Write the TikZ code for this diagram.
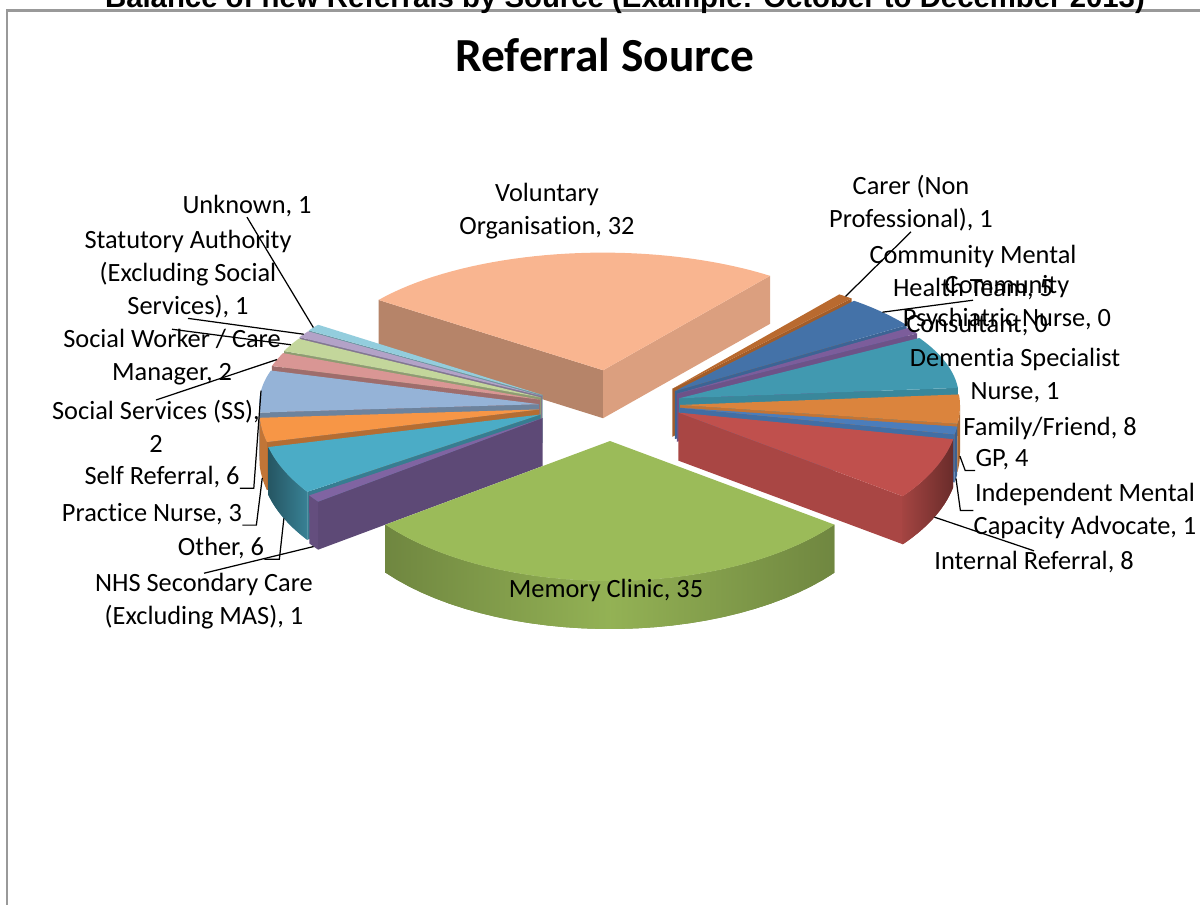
\documentclass[tikz,border=0pt]{standalone}
\usepackage{fontspec}
\setmainfont{Carlito}[Ligatures=NoCommon]
\newfontfamily\headfont{Liberation Sans}
\definecolor{vol}{RGB}{249,181,144}
\definecolor{mem}{RGB}{155,187,89}
\definecolor{carer}{RGB}{185,106,47}
\definecolor{cmht}{RGB}{68,114,168}
\definecolor{dsn}{RGB}{124,93,155}
\definecolor{famf}{RGB}{65,153,176}
\definecolor{gp}{RGB}{219,132,61}
\definecolor{imca}{RGB}{75,125,187}
\definecolor{intref}{RGB}{192,80,77}
\definecolor{nhs}{RGB}{128,100,162}
\definecolor{other}{RGB}{75,172,198}
\definecolor{pnurse}{RGB}{247,150,70}
\definecolor{selfref}{RGB}{149,179,215}
\definecolor{socserv}{RGB}{217,150,148}
\definecolor{socwork}{RGB}{195,214,155}
\definecolor{stat}{RGB}{179,162,199}
\definecolor{unknown}{RGB}{147,205,221}

% one exploded slice: [rim options]{x}{y}{from}{to}{colour}{point for the leader}
\newcommand{\pieslice}[7][]{%
  \pgfmathsetmacro{\slmid}{(#4+#5)/2}%
  \pgfmathsetmacro{\slx}{#2+20*sin(\slmid)}%
  \pgfmathsetmacro{\sly}{#3-20*cos(\slmid)}%
  \pgfmathsetmacro{\sla}{sin(#4)}%
  \pgfmathsetmacro{\slb}{sin(#5)}%
  \pgfmathsetmacro{\sllo}{max(#4,90)}%
  \pgfmathsetmacro{\slhi}{min(#5,270)}%
  \ifdim\sla pt<0pt
    \fill[#6!73!black] (\slx,\sly) -- ({\slx+280*sin(#4)},{\sly-280*sy(#4)*cos(#4)}) -- ++(0,48) -- (\slx,\sly+48) -- cycle;
  \fi
  \ifdim\slb pt>0pt
    \fill[#6!88!black] (\slx,\sly) -- ({\slx+280*sin(#5)},{\sly-280*sy(#5)*cos(#5)}) -- ++(0,48) -- (\slx,\sly+48) -- cycle;
  \fi
  \ifdim\sllo pt<\slhi pt
    \path[fill=#6!78!black,#1] plot[domain=\sllo:\slhi,samples=30,variable=\t] ({\slx+280*sin(\t)},{\sly-280*sy(\t)*cos(\t)})
      -- plot[domain=\slhi:\sllo,samples=30,variable=\t] ({\slx+280*sin(\t)},{\sly+48-280*sy(\t)*cos(\t)}) -- cycle;
  \fi
  \fill[#6] (\slx,\sly) -- plot[domain=#4:#5,samples=40,variable=\t] ({\slx+280*sin(\t)},{\sly-280*sy(\t)*cos(\t)}) -- cycle;
  \pgfmathsetmacro{\sldrop}{(cos(\slmid)<0)*48}%
  \coordinate (#7) at ({\slx+280*sin(\slmid)},{\sly-280*sy(\slmid)*cos(\slmid)+\sldrop});
}

\begin{document}
\begin{tikzpicture}[x=0.02cm,y=-0.02cm,
    declare function={sy(\t)=(cos(\t)>0)*0.42+(cos(\t)<=0)*0.5;},
    lbl/.style={font=\fontsize{15}{18.8}\selectfont,align=center,inner sep=0pt},
    leadline/.style={draw=black,line width=0.7pt},
    chartframe/.style={draw=black!40,line width=1.7pt}]
  \useasboundingbox (0,0) rectangle (1200,904);
  \draw[chartframe] (7,920) -- (7,10) -- (1220,10);
  \node[anchor=base,font=\headfont\bfseries\fontsize{16.7}{20}\selectfont] (head) at (625,7)
    {Balance of new Referrals by Source (Example: October to December 2013)};
  \node[font=\bfseries\fontsize{27}{32}\selectfont] (title) at (605,55) {Referral Source};

  % back slice
  \pieslice{606}{390}{306.7}{396.6}{vol}{vol-p}
  % left group, back to front
  \pieslice{559}{406.5}{303.36}{306.7}{unknown}{unk-p}
  \pieslice{559}{406.5}{300.01}{303.36}{stat}{stat-p}
  \pieslice{559}{406.5}{293.32}{300.01}{socwork}{sw-p}
  \pieslice{559}{406.5}{286.64}{293.32}{socserv}{ss-p}
  \pieslice{559}{406.5}{266.58}{286.64}{selfref}{sr-p}
  \pieslice{559}{406.5}{256.54}{266.58}{pnurse}{pn-p}
  \pieslice[left color=other!50!black,right color=other!75!black]{559}{406.5}{236.47}{256.54}{other}{oth-p}
  \pieslice{559}{406.5}{233.3}{236.47}{nhs}{nhs-p}
  % right group, back to front
  \pieslice{660}{404.5}{36.6}{39.82}{carer}{carer-p}
  \pieslice{660}{404.5}{39.82}{55.91}{cmht}{cmht-p}
  \pieslice{660}{404.5}{55.91}{59.13}{dsn}{dsn-p}
  \pieslice{660}{404.5}{59.13}{84.87}{famf}{ff-p}
  \pieslice{660}{404.5}{84.87}{97.74}{gp}{gp-p}
  \pieslice{660}{404.5}{97.74}{100.96}{imca}{imca-p}
  \pieslice[left color=intref!85!black,right color=intref!55!black]{660}{404.5}{100.96}{126.7}{intref}{ir-p}
  % front slice
  \pieslice[left color=mem!72!black,right color=mem!72!black,middle color=mem!95!black]{610}{421}{126.7}{233.3}{mem}{mem-p}

  % labels
  \node[lbl] (vol) at (547,211.5) {Voluntary\\Organisation, 32};
  \node[lbl] (mem) at (606,590) {Memory Clinic, 35};
  \node[lbl] (carer) at (911,203.5) {Carer (Non\\Professional), 1};
  \node[lbl] (cmht) at (973,272.5) {Community Mental\\Health Team, 5};
  \node[lbl] (cpn) at (1007,303) {Community\\Psychiatric Nurse, 0};
  \node[lbl] (cons) at (977,325) {Consultant, 0};
  \node[lbl] (dsn) at (1015,375.5) {Dementia Specialist\\Nurse, 1};
  \node[lbl] (ff) at (1050,428) {Family/Friend, 8};
  \node[lbl] (gp) at (1002,460) {GP, 4};
  \node[lbl] (imca) at (1085,510.5) {Independent Mental\\Capacity Advocate, 1};
  \node[lbl] (ir) at (1034,562) {Internal Referral, 8};
  \node[lbl] (unk) at (247,206) {Unknown, 1};
  \node[lbl] (stat) at (188,274) {Statutory Authority\\(Excluding Social\\Services), 1};
  \node[lbl] (sw) at (172,357.5) {Social Worker / Care\\Manager, 2};
  \node[lbl] (ss) at (156,426.5) {Social Services (SS),\\2};
  \node[lbl] (sr) at (162,477) {Self Referral, 6};
  \node[lbl] (pn) at (152,514) {Practice Nurse, 3};
  \node[lbl] (oth) at (221,548) {Other, 6};
  \node[lbl] (nhs) at (204,601.5) {NHS Secondary Care\\(Excluding MAS), 1};

  % leader lines
  \draw[leadline] (carer.south) -- (carer-p);
  \draw[leadline] (cmht.south) -- (cmht-p);
  \draw[leadline] (gp.south west) -- ++(-10,0) -- (gp-p);
  \draw[leadline] (imca.west) -- ++(-13,0) -- (imca-p);
  \draw[leadline] (ir.north) -- (ir-p);
  \draw[leadline] (unk.south) -- (unk-p);
  \draw[leadline] (stat.south) -- (stat-p);
  \draw[leadline] (sw.north) -- (sw-p);
  \draw[leadline] (ss.north) -- (ss-p);
  \draw[leadline] (sr.south east) -- ++(14,0) -- (sr-p);
  \draw[leadline] (pn.south east) -- ++(14,0) -- (pn-p);
  \draw[leadline] (oth.south east) -- ++(15,0) -- (oth-p);
  \draw[leadline] (nhs.north) -- (nhs-p);
\end{tikzpicture}
\end{document}
